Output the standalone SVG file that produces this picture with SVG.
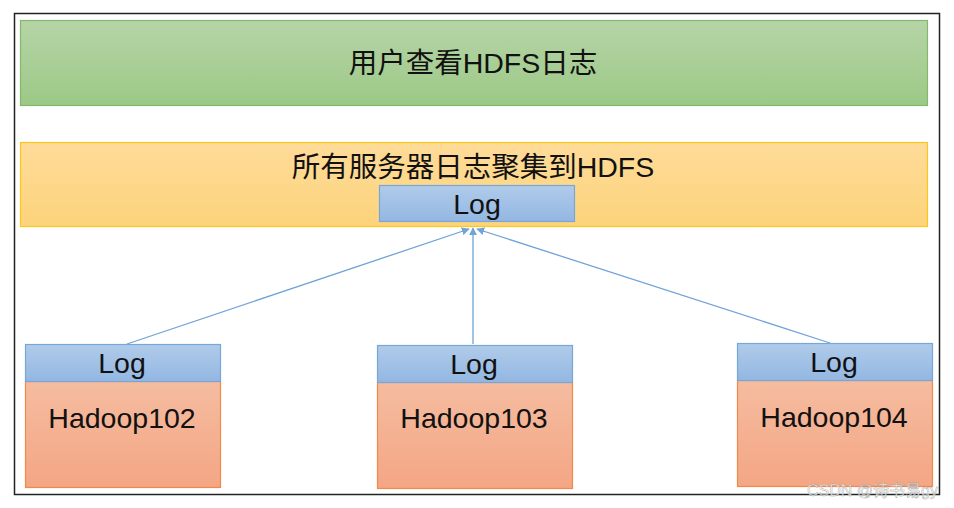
<svg xmlns="http://www.w3.org/2000/svg" width="954" height="508" viewBox="0 0 954 508">
<defs>
<linearGradient id="gG" x1="0" y1="0" x2="0" y2="1"><stop offset="0" stop-color="#b6d4a7"/><stop offset="1" stop-color="#9cc986"/></linearGradient>
<linearGradient id="gO" x1="0" y1="0" x2="0" y2="1"><stop offset="0" stop-color="#fedb99"/><stop offset="1" stop-color="#fdd47b"/></linearGradient>
<linearGradient id="gB" x1="0" y1="0" x2="0" y2="1"><stop offset="0" stop-color="#b0cbea"/><stop offset="1" stop-color="#93b7e2"/></linearGradient>
<linearGradient id="gS" x1="0" y1="0" x2="0" y2="1"><stop offset="0" stop-color="#f5bca0"/><stop offset="1" stop-color="#f4a684"/></linearGradient>
<marker id="arr" viewBox="0 0 10 10" refX="9" refY="5" markerWidth="8" markerHeight="8" markerUnits="userSpaceOnUse" orient="auto"><path d="M0,0 L10,5 L0,10 z" fill="#6fa3d9"/></marker>
</defs>
<style>
.t{font-family:"Liberation Sans","Noto Sans CJK SC",sans-serif;fill:#111;text-anchor:middle;font-size:28.5px}
.log{fill:url(#gB);stroke:#77a6d9;stroke-width:1.2}
.host{fill:url(#gS);stroke:#f0894a;stroke-width:1.2}
.c{stroke:#6fa3d9;stroke-width:1.3;fill:none}
</style>
<rect x="14.5" y="13.5" width="925" height="481" fill="#fff" stroke="#222" stroke-width="1.5"/>
<g id="user">
<rect x="20.5" y="20.5" width="907" height="85" fill="url(#gG)" stroke="#84b96a" stroke-width="1.2"/>
<text class="t" x="473" y="73">用户查看HDFS日志</text>
</g>
<g id="hdfs">
<rect x="20.5" y="142.5" width="907" height="84" fill="url(#gO)" stroke="#ffc61a" stroke-width="1.2"/>
<text class="t" x="473" y="177">所有服务器日志聚集到HDFS</text>
</g>
<g id="hdfsLog">
<rect class="log" x="379.5" y="185.5" width="195" height="36"/>
<text class="t" x="477" y="214">Log</text>
</g>
<g id="connectors">
<line class="c" x1="127" y1="344" x2="469" y2="229" marker-end="url(#arr)"/>
<line class="c" x1="473" y1="344" x2="473" y2="228" marker-end="url(#arr)"/>
<line class="c" x1="830" y1="343" x2="477" y2="229" marker-end="url(#arr)"/>
</g>
<g id="h102">
<rect class="host" x="25.5" y="381.5" width="195" height="106"/>
<rect class="log" x="25.5" y="344.5" width="195" height="37"/>
<text class="t" x="122" y="373">Log</text>
<text class="t" x="122" y="428">Hadoop102</text>
</g>
<g id="h103">
<rect class="host" x="377.5" y="382.5" width="195" height="106"/>
<rect class="log" x="377.5" y="345.5" width="195" height="37"/>
<text class="t" x="474" y="374">Log</text>
<text class="t" x="474" y="428">Hadoop103</text>
</g>
<g id="h104">
<rect class="host" x="737.5" y="380.5" width="195" height="106"/>
<rect class="log" x="737.5" y="343.5" width="195" height="37"/>
<text class="t" x="834" y="372">Log</text>
<text class="t" x="834" y="427">Hadoop104</text>
</g>
<text x="938" y="496" font-family="'Liberation Sans','Noto Sans CJK SC',sans-serif" font-size="16" fill="#ffffff" fill-opacity="0.75" stroke="#999" stroke-width="0.4" text-anchor="end">CSDN @诗书易gy</text>
</svg>
